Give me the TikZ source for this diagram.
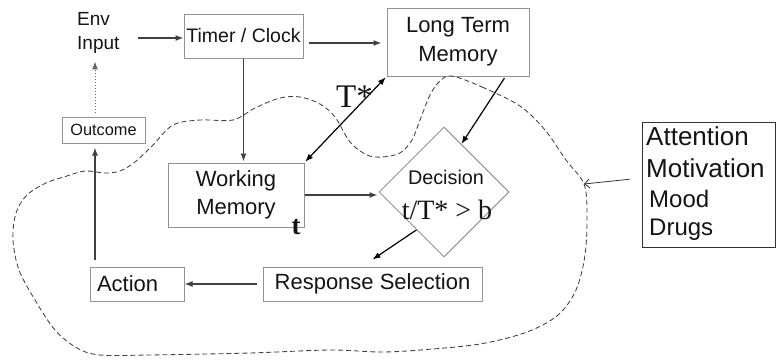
\documentclass[tikz,border=0pt]{standalone}
\usepackage{fontspec}
\setmainfont{Liberation Sans}
\newfontfamily\tnr{Liberation Serif}
\usetikzlibrary{arrows.meta,shapes.geometric}

\tikzset{
  box/.style={draw=gray!85, line width=1pt, inner sep=0pt, text=black!92},
  arr/.style={draw=black!75, line width=1.3pt, -{Latex[length=8pt,width=6pt]}},
  darr/.style={draw=black, line width=1.2pt, -{Latex[length=8pt,width=6pt]}},
  cloud/.style={draw=black!75, line width=0.85pt, dash pattern=on 5pt off 3pt},
  lbl/.style={inner sep=0pt, text=black!92},
}

\begin{document}
\begin{tikzpicture}[x=1pt, y=-1pt]
\useasboundingbox (0,0) rectangle (776,362);

% boxes
\node[box, minimum width=119pt, minimum height=44pt, font=\fontsize{19.5}{23}\selectfont] (timer) at (243.5,36) {Timer / Clock};
\node[box, minimum width=142pt, minimum height=68pt, align=center, font=\fontsize{22}{29}\selectfont] (ltm) at (458,42) {Long Term\\Memory};
\node[box, minimum width=136pt, minimum height=64pt, align=center, font=\fontsize{22}{28}\selectfont] (wm) at (236,195) {Working\\Memory};
\node[box, diamond, aspect=1, minimum width=130pt, minimum height=130pt] (dec) at (444,192) {};
\node[box, minimum width=219pt, minimum height=34pt, font=\fontsize{22}{26}\selectfont] (rs) at (372.5,284) {Response Selection};
\node[box, minimum height=34pt, text width=80pt, inner xsep=7pt, align=left, font=\fontsize{22}{26}\selectfont] (action) at (137,284) {Action};
\node[box, minimum width=83pt, minimum height=26pt, font=\fontsize{16.3}{20}\selectfont] (outcome) at (103.5,130) {Outcome};
\node[box, draw=black!80, minimum width=133pt, minimum height=125pt] (attn) at (708.5,184.5) {};

% free-standing labels
\node[lbl, anchor=north west, align=left, font=\fontsize{19}{24}\selectfont] (env) at (77,12) {Env\\Input};
\node[lbl, font=\fontsize{19.8}{24}\selectfont] (dectext) at (446,177) {Decision};
\node[lbl, font=\tnr\fontsize{28}{32}\selectfont] (ratio) at (447,210) {t/T* > b};
\node[lbl, anchor=base, font=\tnr\bfseries\fontsize{27}{30}\selectfont] (tsmall) at (296,234) {t};
\node[lbl, anchor=base west, font=\tnr\fontsize{33}{36}\selectfont] (tstar) at (336,107) {T*};
\node[lbl, anchor=base west, font=\fontsize{26}{30}\selectfont] (fa) at (646,145) {Attention};
\node[lbl, anchor=base west, font=\fontsize{26}{30}\selectfont] (fm) at (646,177) {Motivation};
\node[lbl, anchor=base west, font=\fontsize{24}{28}\selectfont] (fmo) at (649,207) {Mood};
\node[lbl, anchor=base west, font=\fontsize{24}{28}\selectfont] (fd) at (649,235) {Drugs};

% helper coordinates
\coordinate (col) at (95,0);
\coordinate (cloudpt) at (584,184);

% dashed region
\draw[cloud] plot[smooth cycle, tension=0.55] coordinates {
  (452,76) (482,87) (520,106) (545,130) (566,160) (584,184)
  (587,215) (585,255) (576,290) (558,315) (527,332) (480,344)
  (420,350) (380,352) (330,350) (250,353) (150,355) (100,355)
  (77,348) (55,330) (35,300) (19,270) (13,240) (16,213) (27,195)
  (46,183) (67,176) (85,171) (105,173) (120,171) (135,162)
  (152,146) (173,125) (200,120) (233,120) (255,108) (280,98)
  (300,97) (320,104) (335,117) (350,142) (367,155) (382,157)
  (400,153) (412,140) (420,120) (430,95) (440,81)};

% connectors
\draw[arr, shorten <=18pt, shorten >=0pt] (env.east |- 0,38) -- (timer.west |- 0,38);
\draw[arr, shorten <=5pt, shorten >=5pt] (timer.east |- 0,43) -- (ltm.west |- 0,43);
\draw[arr, shorten >=1pt] (timer.south) -- (wm.north -| timer.south);
\draw[darr, {Latex[length=8pt,width=6pt]}-{Latex[length=8pt,width=6pt]}, shorten <=1pt, shorten >=1pt] (ltm.south west) -- (wm.north east);
\draw[darr, shorten <=2pt] (ltm.-36) -- (dec.70);
\draw[arr, shorten >=1pt] (wm.east) -- (wm.east -| dec.west);
\draw[darr] (dec.-126) -- ([yshift=7pt]rs.north);
\draw[arr, shorten <=6pt] (rs.west) -- (action.east);
\draw[arr, shorten <=7pt, shorten >=4pt] (action.north -| col) -- (outcome.south -| col);
\draw[arr, draw=black!60, line width=1pt, dotted, shorten <=4pt, shorten >=8pt] (outcome.north -| col) -- (env.south -| col);
\draw[draw=black!80, line width=0.8pt, -{Straight Barb[length=5pt,width=9pt]}, shorten <=12pt] (attn.west |- 0,178) -- (cloudpt);
\end{tikzpicture}
\end{document}
